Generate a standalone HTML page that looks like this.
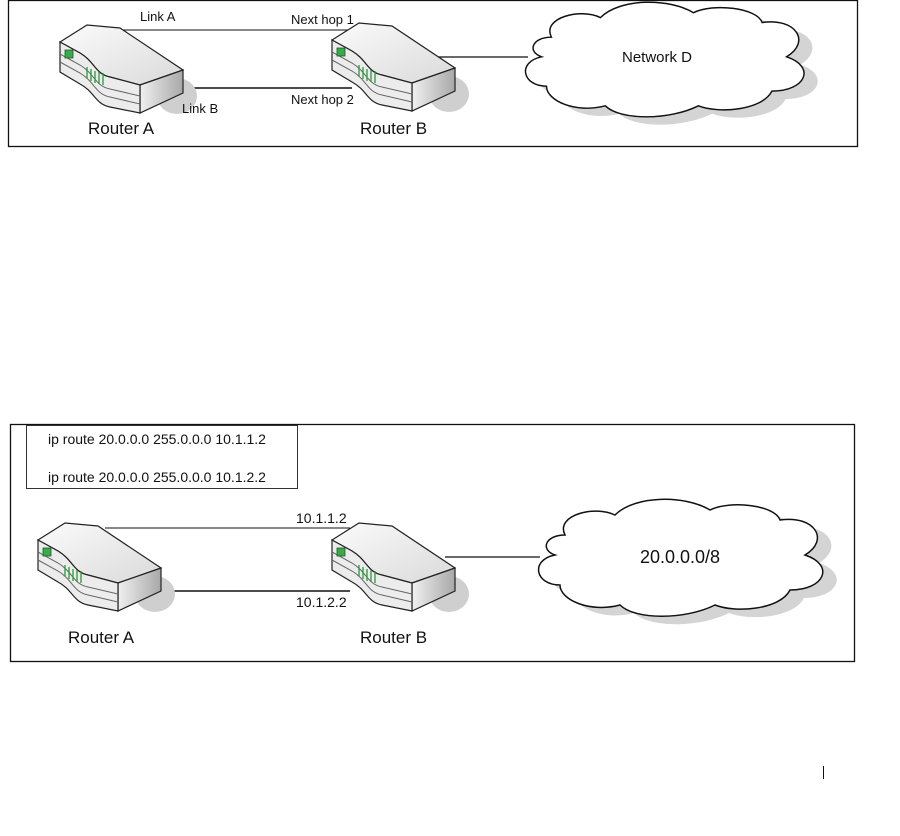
<!DOCTYPE html>
<html><head><meta charset="utf-8"><style>
html,body{margin:0;padding:0;background:#fff}
svg{display:block}
text{font-family:"Liberation Sans",Arial,sans-serif;fill:#111}
</style></head><body>
<svg width="900" height="836" viewBox="0 0 900 836" xmlns="http://www.w3.org/2000/svg">
<defs>
<linearGradient id="tg" x1="0" y1="0" x2="1" y2="1">
<stop offset="0" stop-color="#fbfbfb"/><stop offset="1" stop-color="#dadada"/></linearGradient>
<linearGradient id="sg" x1="0" y1="0" x2="1" y2="0">
<stop offset="0" stop-color="#f0f0f0"/><stop offset="1" stop-color="#a8a8a8"/></linearGradient>
<g id="router">
<ellipse cx="117" cy="74" rx="20" ry="18" fill="#cfcfcf"/>
<path d="M0,20 L27,3 L60,6 L123,48 L80,63 L50,55 C35,52 35,40 20,31 Z" fill="url(#tg)" stroke="#222" stroke-width="1.2"/>
<path d="M80,63 L123,48 L123,71 L80,91 Z" fill="url(#sg)" stroke="#222" stroke-width="1.2"/>
<path d="M0,20 L20,31 C35,40 35,52 50,55 L80,63 L80,91 L50,85 C35,82 35,70 20,62 L0,50 Z" fill="#ececec" stroke="#222" stroke-width="1.2"/>
<path d="M0,32 L20,43 C35,52 35,64 50,67 L80,74" fill="none" stroke="#666" stroke-width="1"/>
<path d="M0,40 L20,51 C35,60 35,72 50,75 L80,82" fill="none" stroke="#666" stroke-width="1"/>
<rect x="5" y="28" width="8" height="8" fill="#3aaa4a" stroke="#1a5a2a" stroke-width="0.8"/>
<g stroke="#2a9a3a" stroke-width="1.3">
<line x1="27" y1="45" x2="27" y2="56"/><line x1="31" y1="47" x2="31" y2="59"/>
<line x1="35" y1="49" x2="35" y2="61"/><line x1="39" y1="50" x2="39" y2="62"/>
<line x1="43" y1="51" x2="43" y2="63"/></g>
</g>
<g id="cloud">
<path transform="translate(14,8)" d="M30,40 C20,20 60,10 80,20 C100,0 150,0 175,15 C195,5 240,10 245,25 C280,20 295,45 270,60 C300,70 290,95 255,95 C245,115 200,118 180,110 C150,125 100,125 85,110 C55,118 25,105 25,90 C0,90 -5,65 20,60 C5,55 10,40 30,40 Z" fill="#d4d4d4"/>
<path d="M30,40 C20,20 60,10 80,20 C100,0 150,0 175,15 C195,5 240,10 245,25 C280,20 295,45 270,60 C300,70 290,95 255,95 C245,115 200,118 180,110 C150,125 100,125 85,110 C55,118 25,105 25,90 C0,90 -5,65 20,60 C5,55 10,40 30,40 Z" fill="#fff" stroke="#111" stroke-width="1.5"/>
</g>
</defs>

<!-- top diagram -->
<rect x="8.5" y="0.5" width="849" height="146" fill="none" stroke="#111" stroke-width="1.3"/>
<line x1="120" y1="30" x2="352" y2="30" stroke="#111" stroke-width="1"/>
<line x1="183" y1="88" x2="352" y2="88" stroke="#111" stroke-width="1.5"/>
<line x1="434" y1="57" x2="528" y2="57" stroke="#111" stroke-width="1.3"/>
<use href="#router" x="60" y="22"/>
<use href="#router" x="332" y="20"/>
<g transform="translate(522,-2) scale(0.98,0.98)"><use href="#cloud"/></g>
<text x="140" y="21" font-size="13">Link A</text>
<text x="291" y="24" font-size="13">Next hop 1</text>
<text x="291" y="104" font-size="13">Next hop 2</text>
<text x="182" y="113" font-size="13">Link B</text>
<text x="88" y="134" font-size="17">Router A</text>
<text x="360" y="134" font-size="17">Router B</text>
<text x="657" y="62" font-size="15" text-anchor="middle">Network D</text>

<!-- bottom diagram -->
<rect x="10.5" y="424.5" width="844" height="237" fill="none" stroke="#111" stroke-width="1.3"/>
<rect x="26.5" y="425.5" width="271" height="63" fill="#fff" stroke="#333" stroke-width="1"/>
<text x="48" y="444" font-size="14">ip route 20.0.0.0 255.0.0.0 10.1.1.2</text>
<text x="48" y="482" font-size="14">ip route 20.0.0.0 255.0.0.0 10.1.2.2</text>
<line x1="105" y1="528" x2="350" y2="528" stroke="#111" stroke-width="1"/>
<line x1="161" y1="591" x2="350" y2="591" stroke="#111" stroke-width="1.5"/>
<line x1="445" y1="557" x2="540" y2="557" stroke="#111" stroke-width="1.3"/>
<use href="#router" x="38" y="520"/>
<use href="#router" x="332" y="520"/>
<g transform="translate(535,495) scale(1.0,1.0)"><use href="#cloud"/></g>
<text x="296" y="523" font-size="14">10.1.1.2</text>
<text x="296" y="607" font-size="14">10.1.2.2</text>
<text x="68" y="643" font-size="17">Router A</text>
<text x="360" y="643" font-size="17">Router B</text>
<text x="680" y="563" font-size="18" text-anchor="middle">20.0.0.0/8</text>

<line x1="823.5" y1="766" x2="823.5" y2="779" stroke="#111" stroke-width="1"/>
</svg>
</body></html>
